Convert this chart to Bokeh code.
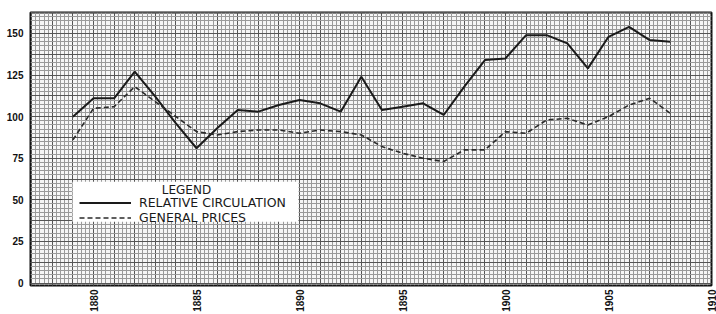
import math
from bokeh.plotting import figure
from bokeh.models import (Range1d, FixedTicker, SingleIntervalTicker, Legend, LegendItem, Label, BoxAnnotation)
from bokeh.embed import file_html
from bokeh.resources import INLINE

years = list(range(1879, 1909))
circulation = [100, 111, 111, 127, 112, 96, 81, 93, 104, 103,
               107, 110, 108, 103, 124, 104, 106, 108, 101, 118,
               134, 135, 149, 149, 144, 129, 148, 154, 146, 145]
prices = [86, 105, 106, 118, 109, 100, 91, 89, 91, 92,
          92, 90, 92, 91, 89, 82, 78, 75, 73, 80,
          80, 91, 90, 98, 99, 95, 100, 107, 111, 102]
x_ticks = [1880, 1885, 1890, 1895, 1900, 1905, 1910]
y_ticks = [0, 25, 50, 75, 100, 125, 150]
series_names = ["RELATIVE CIRCULATION", "GENERAL PRICES"]

p = figure(width=716, height=314, output_backend="svg", toolbar_location=None,
           x_range=Range1d(1876.94, 1910), y_range=Range1d(-1.5, 162.6),
           min_border_left=30, min_border_right=5, min_border_top=12, min_border_bottom=28)

p.outline_line_color = "#111111"
p.outline_line_width = 2
p.background_fill_color = "#f6f6f6"

# graph-paper grid
p.xgrid.ticker = SingleIntervalTicker(interval=1, num_minor_ticks=5)
p.ygrid.ticker = SingleIntervalTicker(interval=12.5, num_minor_ticks=5)
for g in (p.xgrid, p.ygrid):
    g.grid_line_color = "#555555"
    g.grid_line_width = 1
    g.minor_grid_line_color = "#9a9a9a"
    g.minor_grid_line_width = 1

# axes
p.xaxis.ticker = FixedTicker(ticks=x_ticks)
p.yaxis.ticker = FixedTicker(ticks=y_ticks)
p.xaxis.major_label_orientation = math.pi / 2
for ax in (p.xaxis, p.yaxis):
    ax.axis_label = None
    ax.axis_label_standoff = 0
    ax.axis_line_color = None
    ax.major_tick_line_color = None
    ax.minor_tick_line_color = None
    ax.major_tick_out = 0
    ax.major_tick_in = 0
    ax.minor_tick_out = 0
    ax.minor_tick_in = 0
    ax.major_label_text_font = "Liberation Sans"
    ax.major_label_text_font_style = "bold"
    ax.major_label_text_color = "#111111"
p.xaxis.major_label_text_font_size = "10px"
p.yaxis.major_label_text_font_size = "10px"
p.xaxis.major_label_standoff = 4
p.yaxis.major_label_standoff = 7

r1 = p.line(years, circulation, line_color="#1a1a1a", line_width=2)
r2 = p.line(years, prices, line_color="#2a2a2a", line_width=1.6, line_dash="5 3")

# white legend panel (in data units so it sits with the legend entries)
legend_box = BoxAnnotation(left=1878.98, right=1889.95, bottom=36.85, top=60.8,
                           fill_color="white", fill_alpha=1.0, line_color=None,
                           level="underlay")
p.add_layout(legend_box)

legend = Legend(items=[LegendItem(label=series_names[0], renderers=[r1]),
                       LegendItem(label=series_names[1], renderers=[r2])],
                location=(49, 60), title=" ", title_text_font_size="11px",
                title_standoff=0, padding=3, spacing=0, margin=0,
                label_height=13, glyph_height=13, glyph_width=52, label_standoff=8,
                label_text_font="DejaVu Sans", label_text_font_size="12.5px",
                label_text_color="#1a1a1a",
                border_line_color=None, background_fill_alpha=0.0)
p.add_layout(legend, "center")

title_label = Label(x=1884.51, y=56.0, text="LEGEND", text_align="center",
                    text_baseline="middle", text_font="DejaVu Sans",
                    text_font_size="12px", text_color="#1a1a1a")
p.add_layout(title_label)

open("out.html", "w").write(file_html(p, INLINE))
